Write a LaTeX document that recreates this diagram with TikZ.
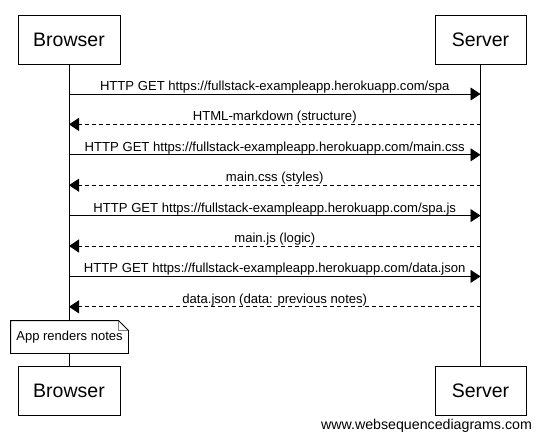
\documentclass[tikz,border=0pt]{standalone}
\usepackage{fontspec}
\setmainfont{Liberation Sans}
\usetikzlibrary{arrows.meta, calc, positioning}

\begin{document}
\begin{tikzpicture}[x=1pt, y=-1pt, line width=0.9pt,
    actor/.style={draw, fill=white, minimum height=49pt, inner sep=0pt, font=\fontsize{19.5}{22}\selectfont},
    msglabel/.style={anchor=base, inner sep=0pt, yshift=3.5pt, font=\fontsize{13.1}{15}\selectfont},
    call/.style={-{Triangle[length=10pt, width=13pt]}},
    reply/.style={call, dash pattern=on 4pt off 3pt},
    notebox/.style={fill=white, minimum width=117pt, minimum height=32pt, inner sep=0pt, font=\fontsize{13}{15}\selectfont}]
    \useasboundingbox (0,0) rectangle (540,440);

    \node[actor, minimum width=102pt] (browser) at (69,39.5) {Browser};
    \node[actor, minimum width=91pt] (server) at (480.5,39.5) {Server};
    \node[actor, minimum width=102pt] (browserend) at (69,390.5) {Browser};
    \node[actor, minimum width=91pt] (serverend) at (480.5,390.5) {Server};

    \draw (browser) -- (browserend);
    \draw (server) -- (serverend);

    \foreach \y [count=\i] in {94,124.4,154.8,185.2,215.6,246,276.4,306.8} {
        \coordinate (b\i) at (browser.south |- 0,\y);
        \coordinate (s\i) at (server.south |- 0,\y);
    }

    \draw[call] (b1) -- node[msglabel] {HTTP GET https://fullstack-exampleapp.herokuapp.com/spa} (s1);
    \draw[reply] (s2) -- node[msglabel] {HTML-markdown (structure)} (b2);
    \draw[call] (b3) -- node[msglabel] {HTTP GET https://fullstack-exampleapp.herokuapp.com/main.css} (s3);
    \draw[reply] (s4) -- node[msglabel] {main.css (styles)} (b4);
    \draw[call] (b5) -- node[msglabel] {HTTP GET https://fullstack-exampleapp.herokuapp.com/spa.js} (s5);
    \draw[reply] (s6) -- node[msglabel] {main.js (logic)} (b6);
    \draw[call] (b7) -- node[msglabel] {HTTP GET https://fullstack-exampleapp.herokuapp.com/data.json} (s7);
    \draw[reply] (s8) -- node[msglabel] {data.json (data: previous notes)} (b8);

    % note with folded corner
    \node[notebox] (note) at (69.5,337) {App renders notes};
    \draw (note.north west) -- ($(note.north east)+(-10,0)$) -- ($(note.north east)+(0,10)$)
        -- (note.south east) -- (note.south west) -- cycle;
    \draw[gray, line width=0.6pt] ($(note.north east)+(-10,0)$) -- ($(note.north east)+(-10,10)$) -- ($(note.north east)+(0,10)$);

    \node[font=\fontsize{14.2}{16}\selectfont] (credit) at (426.5,425.5) {www.websequencediagrams.com};
\end{tikzpicture}
\end{document}
